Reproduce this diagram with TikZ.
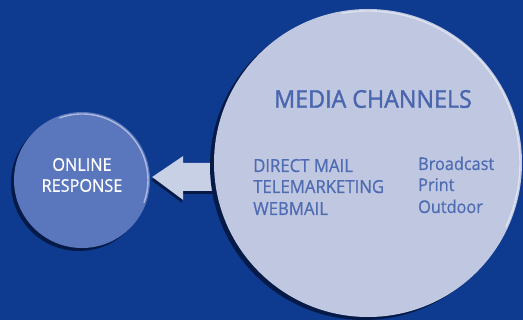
\documentclass[tikz,border=0pt]{standalone}
\usepackage{fontspec}
\setmainfont{Open Sans}[FakeBold=0.7, FakeStretch=0.93]
\newfontfamily\headfont{Open Sans}[FakeBold=1.6, FakeStretch=0.95]
\usetikzlibrary{calc,backgrounds}
\definecolor{bg}{HTML}{0E3B8F}
\definecolor{smallfill}{HTML}{5A76BC}
\definecolor{bigfill}{HTML}{C0C8E1}
\definecolor{txtblue}{HTML}{4F6BB2}
\definecolor{headblue}{HTML}{4A66AE}
\definecolor{darkshadow}{HTML}{061A48}
\definecolor{arrowfill}{HTML}{C8D0E6}
\begin{document}
\begin{tikzpicture}[x=1pt,y=-1pt,
  circ/.style={circle,inner sep=0pt},
  lbl/.style={inner sep=0pt,anchor=base west,text=txtblue,font=\fontsize{18}{21}\selectfont},
  rlbl/.style={lbl,font=\fontsize{17.5}{21}\selectfont},
  rim/.style={line width=1.4pt,opacity=0.5}]
\useasboundingbox (0,0) rectangle (523,320);
% circles
\node[circ, minimum size=136, fill=smallfill] (online) at (82,180) {};
\node[circ, minimum size=308, fill=bigfill] (media) at (368,163) {};
% texts
\node[inner sep=0pt, text=white, align=center, font=\fontsize{17.5}{21}\selectfont]
  (onlinetxt) at ($(online.center)+(0,-5)$) {ONLINE\\RESPONSE};
\node[inner sep=0pt, text=headblue, font=\headfont\fontsize{24.5}{28}\selectfont]
  (mediatxt) at (373,99) {MEDIA CHANNELS};
\node[lbl] (direct) at (253,172) {DIRECT MAIL};
\node[lbl] (tele) at (253,193) {TELEMARKETING};
\node[lbl] (web) at (253,215) {WEBMAIL};
\node[rlbl] (broad) at (418,170) {Broadcast};
\node[rlbl] (print) at (418,191) {Print};
\node[rlbl] (outdoor) at (418,213) {Outdoor};
% highlights (canvas orientation)
\begin{scope}[y=1pt]
  \draw[rim, white] (online.center) ++(110:66) arc(110:-20:66);
  \draw[rim, white] (media.center) ++(100:152) arc(100:-25:152);
\end{scope}
\begin{scope}[on background layer]
  \fill[bg] (0,0) rectangle (523,320);
  \fill[darkshadow] ($(online.center)+(-3,3)$) circle[radius=68];
  \coordinate (tip) at ($(online.east)+(2,-3)$);
  \fill[darkshadow] ($(tip)+(-1,3)$) -- ++(31,-21) -- ++(0,7) -- ++(45,0) -- ++(0,28) -- ++(-45,0) -- ++(0,9) -- cycle;
  \fill[arrowfill] (tip) -- ++(31,-21) -- ++(0,7) -- ++(45,0) -- ++(0,28) -- ++(-45,0) -- ++(0,9) -- cycle;
  \fill[darkshadow] ($(media.center)+(-4,3)$) circle[radius=154];
\end{scope}
\end{tikzpicture}
\end{document}
